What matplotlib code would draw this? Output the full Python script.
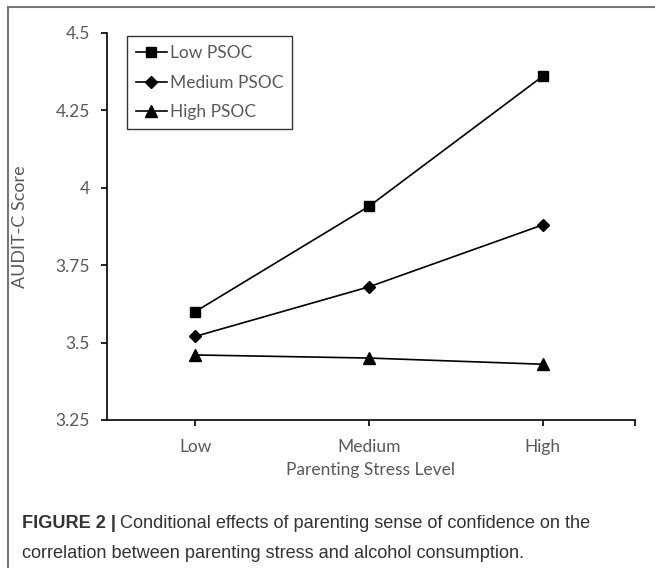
import matplotlib.pyplot as plt
from matplotlib.lines import Line2D

levels = ["Low", "Medium", "High"]
low_psoc = [3.60, 3.94, 4.36]
medium_psoc = [3.52, 3.68, 3.88]
high_psoc = [3.46, 3.45, 3.43]
yticks = [3.25, 3.5, 3.75, 4, 4.25, 4.5]
ytick_labels = ["3.25", "3.5", "3.75", "4", "4.25", "4.5"]

gray = "#595959"
plt.rcParams["font.family"] = ["Lato", "DejaVu Sans"]

fig = plt.figure(figsize=(6.55, 5.68), dpi=100)
ax = fig.add_axes([0.163, 0.2606, 0.806, 0.6814])

x = range(len(levels))
ax.plot(x, low_psoc, color="black", lw=1.2, marker="s", ms=7, label="Low PSOC")
ax.plot(x, medium_psoc, color="black", lw=1.2, marker="D", ms=6, label="Medium PSOC")
ax.plot(x, high_psoc, color="black", lw=1.2, marker="^", ms=8, label="High PSOC")

ax.set_xlim(-0.51, 2.53)
ax.set_ylim(3.25, 4.5)
ax.set_xticks(list(x) + [2.53])
ax.set_xticklabels(levels + [""])
ax.set_yticks(yticks)
ax.set_yticklabels(ytick_labels)
ax.tick_params(colors="black", labelcolor=gray, labelsize=12.5, length=4, width=1.2)
ax.tick_params(axis="x", pad=10)
ax.tick_params(axis="y", pad=8)
for s in ["top", "right"]:
    ax.spines[s].set_visible(False)
for s in ["left", "bottom"]:
    ax.spines[s].set_linewidth(1.2)
ax.set_ylabel("AUDIT-C Score", color=gray, fontsize=13, labelpad=20)
ax.set_xlabel("Parenting Stress Level", color=gray, fontsize=12.5, labelpad=5)

leg = ax.legend(loc="upper left", bbox_to_anchor=(0.038, 0.992), fancybox=False,
                edgecolor="black", fontsize=12.5, handlelength=1.8, handletextpad=0.2,
                labelspacing=0.8, borderpad=0.5, borderaxespad=0)
leg.get_frame().set_linewidth(1.0)
for t in leg.get_texts():
    t.set_color(gray)

# figure frame
fig.add_artist(Line2D([0.012, 1.0], [0.988, 0.988], color="#777777", lw=1.5, transform=fig.transFigure))
fig.add_artist(Line2D([0.012, 0.012], [0.0, 0.988], color="#777777", lw=1.5, transform=fig.transFigure))

cap = dict(family=["Liberation Sans", "DejaVu Sans"], fontsize=13.1, color="#333333", va="center")
t1 = fig.text(0.034, 0.079, "FIGURE 2 |", fontweight="bold", **cap)
fig.canvas.draw()
bb = t1.get_window_extent()
fig.text(bb.x1 / fig.bbox.width + 0.006, 0.079,
         "Conditional effects of parenting sense of confidence on the", **cap)
fig.text(0.034, 0.026, "correlation between parenting stress and alcohol consumption.", **cap)

fig.savefig("out.png", dpi=100)
